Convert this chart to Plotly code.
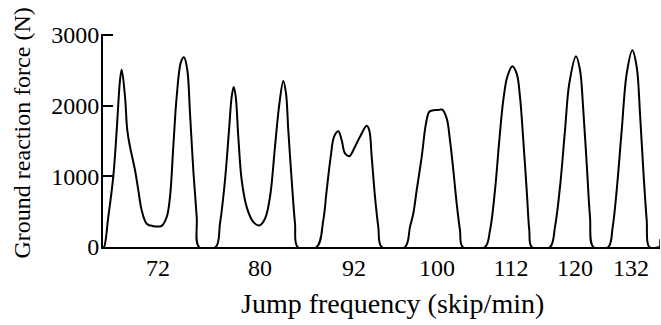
import plotly.graph_objects as go

# Sample index (time, arbitrary units) and ground reaction force (N)
t = [0, 1, 5.3, 10.3, 13.7, 17, 18.7, 22, 24.3, 27, 32, 35.3, 38.7, 43.7, 50.3, 58.7, 63.7, 67, 70.3,
     73.7, 78, 81, 84.3, 87, 90.3, 93.7, 96,
     112.7, 117, 122, 126, 128.7, 130.7, 132.7, 135.3, 138.7, 143.7, 150.3, 156.3, 162, 167, 172, 176,
     180.3, 183, 185.3, 188.7, 192, 194.7,
     213.7, 220.3, 223.7, 227.7, 231, 235.3, 238.7, 242, 246.3, 252, 257, 263.7, 266.3, 268.7, 272,
     275.3, 278.7,
     302, 307, 310.3, 313.7, 318.7, 323, 326.3, 330.3, 335.3, 339.3, 343.7, 347, 350.3, 353.7, 357, 359.7,
     382, 387, 392, 396.3, 400.3, 404.3, 409.3, 413.7, 417, 420.3, 423.7, 426.3, 428.7,
     447, 452, 457, 462, 466.3, 473, 477, 480.3, 483.7, 487, 490.3,
     505.3, 509.7, 513.7, 518.7, 523.7, 529.3, 533.7, 537, 540.3, 543.7, 546.3, 557]
force = [0, 0, 425, 1000, 1650, 2360, 2510, 2130, 1650, 1420, 1090, 805, 520, 330, 295, 300, 425, 710, 1420,
         2130, 2620, 2685, 2505, 1895, 1090, 425, 0,
         0, 330, 945, 1650, 2130, 2265, 2130, 1560, 945, 565, 355, 305, 400, 710, 1420, 1985,
         2350, 2175, 1650, 945, 330, 0,
         0, 380, 805, 1275, 1560, 1640, 1510, 1325, 1285, 1420, 1560, 1715, 1650, 1275, 710,
         285, 0,
         0, 285, 475, 805, 1275, 1750, 1915, 1935, 1940, 1945, 1820, 1510, 1090, 615, 235, 0,
         0, 235, 805, 1510, 2080, 2410, 2560, 2455, 2125, 1510, 805, 235, 0,
         0, 285, 850, 1650, 2315, 2700, 2505, 1935, 1180, 425, 0,
         0, 285, 805, 1650, 2455, 2785, 2550, 1890, 1090, 380, 0, 0]

freq_labels = ["72", "80", "92", "100", "112", "120", "132"]
freq_tick_pos = [55, 157, 251, 334, 408, 472, 528]
y_ticks = [0, 1000, 2000, 3000]

FONT = "Liberation Serif"

fig = go.Figure()
fig.add_trace(go.Scatter(
    x=t, y=force, mode="lines",
    line=dict(color="black", width=2, shape="spline", smoothing=1.0),
    hoverinfo="skip", showlegend=False,
))

fig.update_layout(
    width=661, height=325,
    margin=dict(l=103, r=1, t=34, b=78),
    paper_bgcolor="white", plot_bgcolor="white",
    font=dict(family=FONT, color="black", size=24),
    xaxis=dict(
        range=[0, 557], showgrid=False, zeroline=False,
        showline=True, linecolor="black", linewidth=2,
        tickmode="array", tickvals=freq_tick_pos, ticktext=freq_labels,
        ticks="", tickfont=dict(family=FONT, size=24, color="black"),
        ticklabelstandoff=-2,
    ),
    yaxis=dict(
        range=[0, 3015], showgrid=False, zeroline=False,
        showline=True, linecolor="black", linewidth=2,
        tickmode="array", tickvals=y_ticks, ticktext=[str(v) for v in y_ticks],
        ticks="inside", ticklen=10, tickwidth=2, tickcolor="black",
        tickfont=dict(family=FONT, size=24, color="black"),
        ticklabelstandoff=-3,
    ),
    annotations=[
        dict(text="Ground reaction force (N)", xref="paper", yref="paper",
             x=-0.1454, y=0.533, xanchor="center", yanchor="middle", textangle=-90,
             showarrow=False, font=dict(family=FONT, size=24, color="black")),
        dict(text="Jump frequency (skip/min)", xref="paper", yref="paper",
             x=0.5206, y=-0.264, xanchor="center", yanchor="middle",
             showarrow=False, font=dict(family=FONT, size=28, color="black")),
    ],
    shapes=[
        dict(type="line", xref="x", yref="y", x0=557, x1=557, y0=0, y1=110,
             line=dict(color="black", width=1.5)),
    ],
)

fig.write_html("out.html")
